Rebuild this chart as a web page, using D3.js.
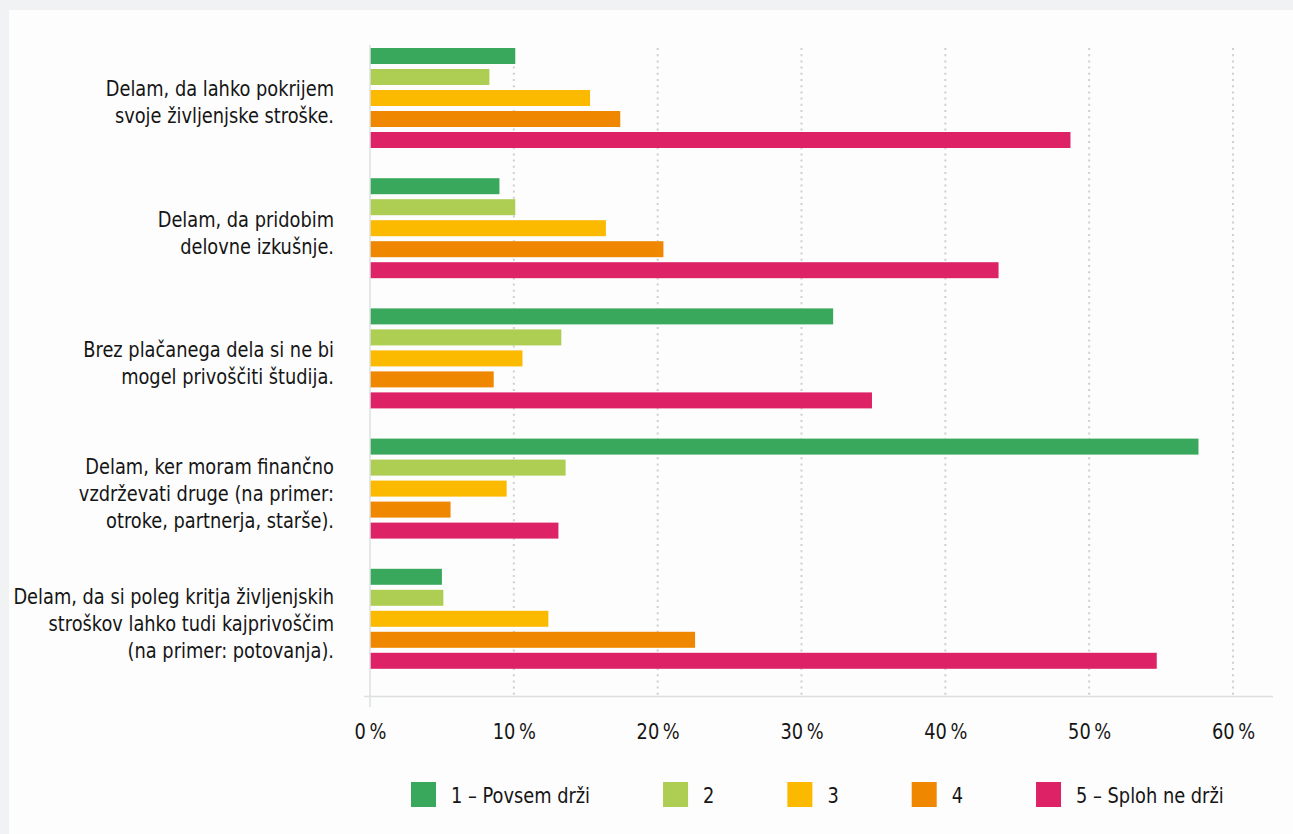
<!DOCTYPE html>
<html>
<head>
<meta charset="utf-8">
<script src="https://cdn.jsdelivr.net/npm/d3@7/dist/d3.min.js"></script>
<style>
  html, body { margin: 0; padding: 0; background: #f1f2f4; }
  svg { display: block; }
  text { font-family: "DejaVu Sans Condensed", "DejaVu Sans", sans-serif; fill: #151515; }
</style>
</head>
<body>
<svg id="chart" width="1293" height="834"></svg>
<script>
// ---- data ----
const categories = [
  ["Delam, da lahko pokrijem", "svoje življenjske stroške."],
  ["Delam, da pridobim", "delovne izkušnje."],
  ["Brez plačanega dela si ne bi", "mogel privoščiti študija."],
  ["Delam, ker moram finančno", "vzdrževati druge (na primer:", "otroke, partnerja, starše)."],
  ["Delam, da si poleg kritja življenjskih", "stroškov lahko tudi kajprivoščim", "(na primer: potovanja)."]
];
const seriesNames = ["1 – Povsem drži", "2", "3", "4", "5 – Sploh ne drži"];
const s1 = [10.1, 9.0, 32.2, 57.6, 5.0];
const s2 = [8.3, 10.1, 13.3, 13.6, 5.1];
const s3 = [15.3, 16.4, 10.6, 9.5, 12.4];
const s4 = [17.4, 20.4, 8.6, 5.6, 22.6];
const s5 = [48.7, 43.7, 34.9, 13.1, 54.7];
const seriesValues = [s1, s2, s3, s4, s5];
const tickValues = [0, 10, 20, 30, 40, 50, 60];
const colors = ["#3aa85c", "#aecd53", "#fbb900", "#f08700", "#dd2366"];

// ---- layout ----
const SX = 0.9; // horizontal condensing of text to mimic the narrow face
const svg = d3.select("#chart");
svg.append("rect").attr("x", 9).attr("y", 10).attr("width", 1293 - 9).attr("height", 834 - 10).attr("fill", "#fdfdfd");

const x = d3.scaleLinear().domain([0, 60]).range([370, 1233]);
const y0 = d3.scaleBand().domain(d3.range(categories.length)).range([45, 696]).padding(0);
const y1 = d3.scaleBand().domain(d3.range(seriesNames.length)).range([3, 103]).paddingInner(0.238).paddingOuter(0);

// gridlines
svg.append("g").selectAll("line").data(tickValues.filter(d => d > 0)).join("line")
  .attr("x1", d => x(d)).attr("x2", d => x(d))
  .attr("y1", 48).attr("y2", 696)
  .attr("stroke", "#cfcfcf").attr("stroke-width", 2).attr("stroke-dasharray", "2,4.2");

// bars
const groups = svg.append("g").selectAll("g").data(categories).join("g")
  .attr("transform", (d, i) => `translate(0,${y0(i)})`);
groups.selectAll("rect").data((d, i) => seriesValues.map((s, k) => ({k, v: s[i]}))).join("rect")
  .attr("x", x(0)).attr("y", d => y1(d.k))
  .attr("width", d => x(d.v) - x(0)).attr("height", y1.bandwidth())
  .attr("fill", d => colors[d.k]);

// axes lines
svg.append("line").attr("x1", 364).attr("x2", 1273).attr("y1", 696.5).attr("y2", 696.5)
  .attr("stroke", "#dde0e1").attr("stroke-width", 1.5);
svg.append("line").attr("x1", 370).attr("x2", 370).attr("y1", 45).attr("y2", 707)
  .attr("stroke", "#dde0e1").attr("stroke-width", 1.5);

// x tick labels via axis
const xAxis = d3.axisBottom(x).tickValues(tickValues).tickSize(0).tickPadding(0)
  .tickFormat(d => d + "\u2009%");
const gx = svg.append("g").attr("transform", "translate(0,739)").call(xAxis);
gx.select(".domain").remove();
gx.selectAll(".tick text").attr("dy", null).attr("y", 0).attr("font-size", 22)
  .attr("fill", "#151515").style("font-family", null)
  .attr("transform", `scale(${SX},1)`);

// category labels
const lh = 27;
groups.each(function(lines, i) {
  const c = y1.range()[0] + (y1.range()[1] - y1.range()[0]) / 2;
  const t = d3.select(this).append("g").attr("transform", `translate(334,0) scale(${SX},1)`)
    .append("text").attr("text-anchor", "end").attr("font-size", 22);
  lines.forEach((ln, j) => {
    t.append("tspan").attr("x", 0).attr("y", c + 12 + (j - (lines.length - 1) / 2) * lh).text(ln);
  });
});

// legend
const legend = svg.append("g");
let lx = 411;
seriesNames.forEach((name, k) => {
  const g = legend.append("g").attr("transform", `translate(${lx},0)`);
  g.append("rect").attr("x", 0).attr("y", 782).attr("width", 25).attr("height", 25).attr("fill", colors[k]);
  const t = g.append("g").attr("transform", `translate(40,0) scale(${SX},1)`)
    .append("text").attr("x", 0).attr("y", 803).attr("font-size", 22).text(name);
  const w = t.node().getComputedTextLength() * SX;
  lx += 40 + w + 73;
});
</script>
</body>
</html>
